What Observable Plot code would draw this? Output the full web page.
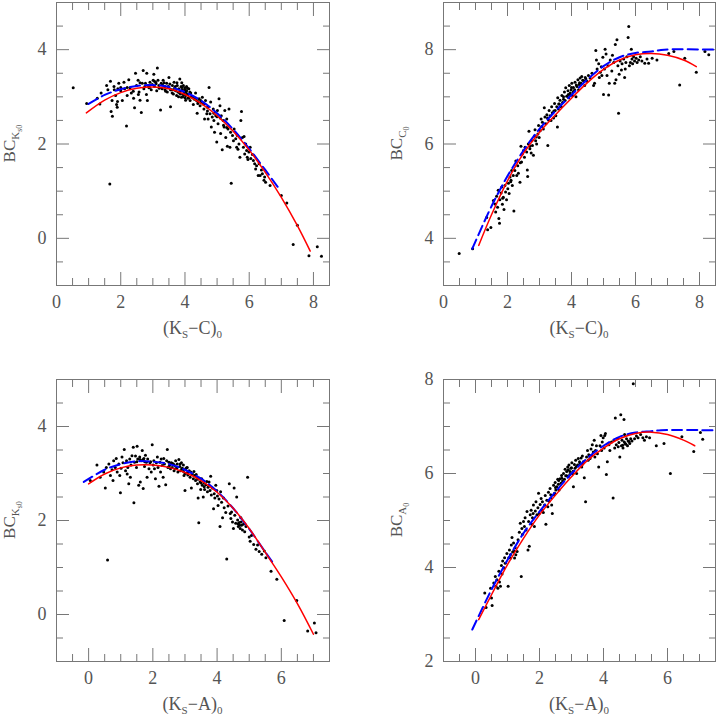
<!DOCTYPE html>
<html><head><meta charset="utf-8">
<script src="https://cdn.jsdelivr.net/npm/d3@7"></script>
<script src="https://cdn.jsdelivr.net/npm/@observablehq/plot@0.6"></script>
<style>
body{margin:0;background:#fff}
#c{position:relative;width:717px;height:718px;overflow:hidden}
#c > div{position:absolute}
</style>
</head><body><div id="c"></div>
<script>
// ---------- Panel 1: BC_Ks0 vs (Ks-C)0 ----------
const p1Points = [
[0.52,3.19],[0.94,2.86],[1.27,2.97],[1.35,2.85],[1.39,3.08],[1.56,3.24],[1.6,3.15],[1.68,3.33],[1.73,2.92],[1.70,2.69],
[1.74,2.59],[1.66,1.15],[1.79,3.22],[1.84,3.03],[1.87,2.84],[1.89,2.78],[1.91,3.17],[1.94,3.29],[2.0,3.13],[2.05,2.92],
[2.1,3.31],[2.12,3.17],[2.18,2.38],[2.2,3.03],[2.25,3.36],[2.29,3.19],[2.33,3.08],[2.39,3.12],[2.43,2.77],[2.46,3.5],
[2.49,3.24],[2.54,3.35],[2.57,3.10],[2.60,2.93],[2.64,2.67],[2.67,3.29],[2.70,3.56],[2.72,3.17],[2.77,3.29],[2.81,3.5],
[2.83,2.92],[2.85,3.24],[2.88,3.19],[2.91,3.31],[2.95,3.15],[2.98,3.26],[3.01,3.35],[3.03,3.48],[3.05,3.22],[3.09,3.31],
[3.12,3.13],[3.14,3.61],[3.16,3.35],[3.19,3.24],[3.24,2.72],[3.26,3.29],[3.29,3.17],[3.32,3.35],[3.37,3.22],[3.40,3.12],
[3.43,3.29],[3.47,3.19],[3.50,3.41],[3.53,3.27],[3.55,2.79],[3.57,3.15],[3.61,3.24],[3.64,3.06],[3.66,3.31],[3.68,3.19],
[3.71,3.13],[3.74,3.03],[3.76,3.24],[3.78,3.10],[3.81,3.17],[3.84,3.38],[3.86,3.06],[3.89,2.99],[3.92,3.15],[3.95,3.24],
[3.97,3.10],[3.99,3.19],[4.02,3.03],[4.02,2.93],[4.05,3.13],[4.07,3.06],[4.09,2.97],[4.12,3.17],[4.16,2.92],[4.18,3.08],
[4.23,2.99],[4.26,2.84],[4.28,2.96],[4.33,3.08],[4.36,2.92],[4.38,2.65],[4.40,2.86],[4.44,2.96],[4.47,2.81],[4.49,2.92],
[4.54,2.99],[4.57,2.85],[4.59,2.74],[4.61,2.53],[4.64,2.92],[4.68,2.64],[4.70,2.78],[4.72,2.53],[4.75,3.20],[4.78,2.64],
[4.80,2.89],[4.82,2.36],[4.85,2.57],[4.88,2.74],[4.90,2.50],[4.92,2.25],[4.96,2.60],[4.99,2.04],[5.01,2.71],[5.03,2.43],
[5.06,2.96],[5.09,2.81],[5.11,2.22],[5.13,2.60],[5.16,1.88],[5.19,2.50],[5.22,2.36],[5.24,2.71],[5.27,2.14],[5.30,2.53],
[5.32,1.95],[5.34,2.32],[5.37,2.74],[5.40,1.93],[5.42,2.25],[5.44,1.17],[5.48,2.18],[5.51,2.07],[5.53,2.32],[5.58,2.11],
[5.61,1.93],[5.63,2.18],[5.65,1.89],[5.68,2.0],[5.71,1.72],[5.74,2.50],[5.76,2.69],[5.79,2.14],[5.82,1.93],[5.84,2.16],
[5.86,1.79],[5.89,2.0],[5.92,1.86],[5.94,1.72],[5.96,1.67],[5.99,1.83],[6.03,1.93],[6.05,1.69],[6.10,1.78],[6.13,1.65],
[6.17,1.58],[6.20,1.47],[6.23,1.54],[6.28,1.33],[6.31,1.58],[6.34,1.33],[6.38,1.45],[6.41,1.37],[6.46,1.23],[6.48,1.30],
[6.51,1.19],[6.65,1.12],[7.0,0.91],[7.17,0.75],[7.5,0.28],[7.37,-0.13],[7.86,-0.37],[8.12,-0.18],[8.25,-0.38],
[3.85,3.12],[3.9,3.2],[3.95,3.05],[4.0,3.15],[4.05,3.22],[4.1,3.05],[3.8,3.0],[4.15,3.1],[3.7,3.22],[3.6,3.08],
[3.55,3.15],[3.45,3.1],[3.3,3.25],[3.2,3.18],[3.1,3.28],[2.9,3.2],[2.75,3.22],[2.6,3.3],[3.05,3.33],[3.35,3.3],
[4.2,3.0],[4.3,2.95],[4.4,2.9],[4.5,2.88],[4.6,2.85],[4.0,2.98],[3.9,3.3],[3.75,3.3],[2.2,3.2],[2.0,3.2],
[1.8,3.15],[1.9,2.9],[2.4,2.97],[2.55,3.05],[2.8,3.05],[4.7,2.7],[4.9,2.65],[5.0,2.58],[5.2,2.4],[5.1,2.55],[5.3,2.35],
[3.98,3.08],[4.03,3.1],[3.93,3.0],[4.08,3.18],[3.88,3.22],[4.13,2.98],[3.83,3.08],[3.63,3.15],[3.48,3.22],[3.38,3.15]
];
const p1Red = [[0.93,2.66],[1.5,2.93],[2,3.09],[2.5,3.18],[3,3.21],[3.5,3.17],[4,3.05],[4.5,2.86],[5,2.6],[5.5,2.27],[6,1.87],[6.5,1.4],[7,0.87],[7.5,0.27],[7.9,-0.27]];
const p1Blue = [[1.0,2.85],[1.5,3.04],[2,3.16],[2.5,3.23],[3,3.25],[3.5,3.21],[4,3.1],[4.5,2.92],[5,2.65],[5.5,2.31],[6,1.9],[6.5,1.45],[6.9,1.08]];

// ---------- Panel 2: BC_C0 vs (Ks-C)0 ----------
const p2Points = [
[0.49,3.68],[0.91,3.78],[1.35,4.44],[1.38,4.18],[1.48,4.23],[1.56,4.8],[1.61,4.73],[1.63,4.56],[1.66,4.89],[1.69,4.66],
[1.71,5.02],[1.73,4.42],[1.75,4.32],[1.76,4.82],[1.80,4.96],[1.82,5.09],[1.84,4.72],[1.87,4.87],[1.89,4.61],[1.92,5.12],
[1.94,4.98],[1.97,4.82],[2.01,5.05],[2.03,5.17],[2.05,4.95],[2.08,5.30],[2.11,5.23],[2.13,5.44],[2.15,5.12],[2.18,5.33],
[2.20,4.58],[2.23,5.44],[2.26,5.64],[2.29,5.33],[2.32,5.54],[2.34,5.38],[2.39,5.19],[2.42,5.95],[2.44,5.62],[2.46,5.79],
[2.50,5.86],[2.53,5.72],[2.55,5.93],[2.60,5.83],[2.62,5.45],[2.63,5.31],[2.65,6.0],[2.67,6.27],[2.70,5.90],[2.74,5.81],
[2.76,6.07],[2.78,5.97],[2.81,5.76],[2.84,6.17],[2.86,6.30],[2.88,6.07],[2.91,6.0],[2.95,6.21],[2.97,6.39],[2.99,6.14],
[3.02,6.28],[3.05,6.53],[3.07,6.37],[3.09,6.46],[3.12,6.32],[3.15,6.77],[3.17,6.57],[3.20,6.43],[3.23,6.62],[3.26,5.97],
[3.28,6.51],[3.30,6.71],[3.33,6.60],[3.36,6.50],[3.38,6.79],[3.40,6.66],[3.44,6.55],[3.47,6.86],[3.49,6.71],[3.51,6.60],
[3.54,6.79],[3.56,6.36],[3.57,6.98],[3.59,6.74],[3.62,6.85],[3.64,6.93],[3.68,6.79],[3.70,7.03],[3.72,6.88],[3.75,6.95],
[3.78,7.10],[3.80,6.92],[3.82,7.19],[3.85,7.01],[3.89,7.13],[3.91,6.98],[3.93,7.24],[3.96,7.08],[3.99,7.15],[4.01,7.29],
[4.03,7.03],[4.06,7.20],[4.09,7.12],[4.11,7.31],[4.14,7.0],[4.17,7.22],[4.20,7.36],[4.22,7.15],[4.24,7.26],[4.27,7.40],
[4.30,7.29],[4.32,7.43],[4.38,7.34],[4.41,7.24],[4.43,7.41],[4.48,7.33],[4.53,7.45],[4.58,7.40],[4.64,7.50],[4.69,7.24],
[4.72,7.29],[4.76,7.98],[4.78,7.78],[4.80,7.59],[4.85,7.70],[4.87,7.41],[4.90,7.52],[4.93,7.64],[4.95,7.45],[4.98,7.84],
[5.0,7.05],[5.03,7.59],[5.05,8.01],[5.08,7.91],[5.11,7.45],[5.14,7.66],[5.16,7.04],[5.18,7.29],[5.21,7.78],[5.26,7.55],
[5.28,7.88],[5.32,7.73],[5.35,7.29],[5.37,8.11],[5.39,7.36],[5.42,8.21],[5.45,7.66],[5.47,6.65],[5.49,7.48],[5.52,7.76],
[5.56,7.57],[5.58,7.70],[5.63,7.80],[5.66,7.41],[5.68,7.59],[5.70,7.73],[5.73,7.85],[5.77,8.26],[5.79,8.49],[5.81,7.66],
[5.84,7.73],[5.87,8.01],[5.89,7.80],[5.91,7.70],[5.94,7.85],[5.97,7.76],[6.02,7.82],[6.05,7.73],[6.10,7.78],[6.15,7.85],
[6.20,7.76],[6.29,7.71],[6.36,7.80],[6.41,7.71],[6.52,7.82],[6.67,7.78],[7.04,7.92],[7.20,7.96],[7.38,7.25],[7.54,7.82],
[7.90,7.52],[8.17,7.96],[8.29,7.89],
[3.95,7.05],[4.05,7.1],[4.0,7.2],[3.9,7.05],[4.15,7.25],[4.1,7.15],[3.75,7.0],[3.6,6.85],[3.45,6.7],[3.25,6.55],
[2.9,6.15],[2.7,5.95],[2.4,5.6],[2.1,5.2],[1.85,4.85],[4.35,7.35],[4.45,7.38],[4.25,7.3]
];
const p2Red = [[1.1,3.85],[1.5,4.5],[2,5.22],[2.5,5.8],[3,6.25],[3.5,6.62],[4,6.97],[4.5,7.3],[5,7.58],[5.5,7.78],[6,7.89],[6.5,7.92],[7,7.88],[7.5,7.78],[7.9,7.64]];
const p2Blue = [[0.9,3.78],[1.5,4.68],[2,5.32],[2.5,5.86],[3,6.32],[3.5,6.7],[4,7.04],[4.5,7.37],[5,7.65],[5.5,7.84],[6,7.93],[6.5,7.96],[6.9,8.0],[8.5,8.0]];

// ---------- Panel 3: BC_Ks0 vs (Ks-A)0 ----------
const p3Points = [
[0.05,2.85],[0.26,3.18],[0.36,2.92],[0.47,3.03],[0.52,2.69],[0.55,3.13],[0.59,1.16],[0.63,3.2],[0.68,2.96],[0.73,3.08],
[0.76,2.85],[0.78,3.27],[0.83,3.13],[0.86,3.32],[0.89,3.03],[0.94,3.20],[0.97,2.96],[0.99,2.59],[1.01,3.11],[1.04,3.35],
[1.07,3.23],[1.11,3.51],[1.15,3.06],[1.18,3.27],[1.20,2.99],[1.22,3.13],[1.25,2.78],[1.28,3.31],[1.30,2.92],[1.32,3.18],
[1.35,3.38],[1.39,3.56],[1.41,2.38],[1.43,3.24],[1.46,3.37],[1.49,3.13],[1.51,3.58],[1.53,3.31],[1.56,2.75],[1.59,3.35],
[1.61,2.82],[1.64,3.27],[1.67,3.49],[1.70,2.68],[1.72,3.32],[1.74,3.15],[1.77,3.39],[1.80,3.24],[1.82,2.92],[1.84,3.31],
[1.88,3.10],[1.91,3.23],[1.93,3.25],[1.95,3.03],[1.98,3.61],[2.01,3.18],[2.03,3.27],[2.05,3.10],[2.08,2.89],[2.11,3.23],
[2.14,3.35],[2.16,3.13],[2.19,2.73],[2.22,3.24],[2.24,3.03],[2.26,3.31],[2.29,3.17],[2.32,2.92],[2.34,3.32],[2.36,3.20],
[2.40,2.76],[2.43,3.27],[2.45,3.51],[2.47,3.13],[2.50,3.24],[2.53,3.18],[2.55,3.10],[2.57,3.23],[2.60,3.13],[2.64,3.20],
[2.66,3.06],[2.68,3.17],[2.71,3.27],[2.74,3.11],[2.76,3.20],[2.78,3.03],[2.81,3.30],[2.84,3.15],[2.86,3.06],[2.89,3.23],
[2.92,3.11],[2.95,3.18],[2.97,2.96],[3.0,2.64],[3.02,3.10],[3.05,3.01],[3.07,3.13],[3.09,2.97],[3.13,3.06],[3.16,2.92],
[3.18,3.03],[3.20,2.69],[3.23,2.99],[3.26,2.89],[3.28,3.04],[3.30,2.96],[3.33,2.85],[3.36,2.92],[3.39,2.78],[3.41,2.48],
[3.43,1.95],[3.45,2.90],[3.47,2.82],[3.49,2.66],[3.52,2.89],[3.54,2.75],[3.57,2.50],[3.59,2.80],[3.61,2.66],[3.65,2.76],
[3.68,2.83],[3.70,2.61],[3.72,2.71],[3.75,2.82],[3.78,2.64],[3.80,2.94],[3.82,2.54],[3.85,2.69],[3.89,2.25],[3.91,2.57],
[3.93,2.48],[3.96,2.75],[3.99,2.64],[4.01,2.52],[4.03,2.32],[4.06,2.46],[4.09,1.87],[4.11,2.61],[4.14,2.39],[4.17,2.06],
[4.20,2.48],[4.22,2.27],[4.27,2.17],[4.30,1.18],[4.34,2.31],[4.38,2.78],[4.41,2.15],[4.43,2.04],[4.45,2.18],[4.48,1.97],
[4.51,1.83],[4.53,2.69],[4.55,2.11],[4.58,1.94],[4.61,2.50],[4.64,2.01],[4.66,1.87],[4.69,1.96],[4.72,1.83],[4.74,2.06],
[4.76,1.90],[4.79,1.80],[4.82,1.92],[4.86,1.76],[4.90,1.87],[4.95,2.92],[5.0,1.65],[5.03,1.56],[5.07,1.68],[5.14,1.49],
[5.21,1.39],[5.26,1.48],[5.31,1.34],[5.39,1.28],[5.47,1.35],[5.52,1.21],[5.68,0.92],[5.86,0.75],[6.48,0.30],[6.09,-0.13],
[6.82,-0.35],[7.03,-0.18],[7.08,-0.39],
[2.9,3.1],[2.95,3.05],[3.0,3.0],[3.05,3.12],[3.1,3.02],[2.85,3.2],[2.7,3.1],[2.6,3.22],[2.5,3.15],[1.7,3.3],
[1.75,3.25],[1.6,3.3],[1.5,3.25],[3.35,2.98],[3.4,2.88],[3.5,2.8],[3.6,2.72],[4.7,1.9],[4.75,1.97],[4.65,1.93]
];
const p3Red = [[0,2.78],[0.5,2.99],[1,3.12],[1.5,3.18],[2,3.18],[2.5,3.13],[3,3.02],[3.5,2.85],[4,2.6],[4.5,2.26],[5,1.83],[5.5,1.32],[6,0.8],[6.5,0.23],[7,-0.42]];
const p3Blue = [[-0.15,2.82],[0.5,3.08],[1,3.2],[1.5,3.26],[2,3.25],[2.5,3.2],[3,3.08],[3.5,2.89],[4,2.62],[4.5,2.26],[5,1.82],[5.5,1.33],[5.75,1.09]];

// ---------- Panel 4: BC_A0 vs (Ks-A)0 ----------
const p4Points = [
[0.29,3.46],[0.33,3.15],[0.47,3.56],[0.50,3.35],[0.52,3.19],[0.57,3.67],[0.62,3.81],[0.64,3.60],[0.67,3.74],[0.70,3.56],
[0.73,3.92],[0.75,3.69],[0.78,3.60],[0.81,4.04],[0.83,3.86],[0.85,4.14],[0.88,3.99],[0.91,4.21],[0.93,4.09],[0.98,4.30],
[1.02,3.60],[1.04,4.21],[1.06,4.37],[1.09,4.27],[1.12,4.48],[1.14,4.64],[1.16,4.33],[1.19,4.52],[1.22,4.20],[1.24,4.42],
[1.26,4.27],[1.30,4.34],[1.33,4.59],[1.37,4.75],[1.40,4.94],[1.43,3.81],[1.45,4.83],[1.47,4.71],[1.50,4.98],[1.53,4.87],
[1.55,5.06],[1.58,4.80],[1.61,5.19],[1.64,4.37],[1.66,4.98],[1.68,4.45],[1.71,5.12],[1.74,5.22],[1.76,4.92],[1.78,5.06],
[1.81,5.33],[1.84,4.87],[1.87,5.20],[1.89,5.40],[1.92,5.12],[1.95,5.27],[1.97,5.58],[1.99,5.15],[2.02,5.34],[2.05,5.47],
[2.07,5.22],[2.09,5.40],[2.12,5.17],[2.16,5.33],[2.18,5.53],[2.20,4.92],[2.23,5.43],[2.26,5.29],[2.28,5.60],[2.30,5.41],
[2.33,5.68],[2.36,5.48],[2.38,5.33],[2.40,5.15],[2.44,5.75],[2.47,5.58],[2.49,5.81],[2.51,5.65],[2.54,5.72],[2.57,5.88],
[2.59,5.77],[2.61,5.65],[2.64,5.89],[2.67,5.79],[2.69,5.96],[2.72,5.84],[2.75,6.0],[2.78,5.88],[2.80,6.09],[2.82,5.95],
[2.85,6.04],[2.88,6.14],[2.90,5.93],[2.92,6.18],[2.95,6.04],[2.98,6.11],[3.01,6.23],[3.03,6.0],[3.06,5.72],[3.09,6.19],
[3.11,6.11],[3.13,6.28],[3.16,6.0],[3.19,6.18],[3.21,6.32],[3.26,6.21],[3.30,6.33],[3.32,6.14],[3.34,6.37],[3.37,6.25],
[3.40,5.91],[3.44,5.40],[3.47,6.35],[3.50,6.49],[3.52,6.28],[3.54,6.40],[3.58,6.32],[3.61,6.52],[3.63,6.39],[3.65,6.61],
[3.68,6.46],[3.71,6.71],[3.73,6.35],[3.75,6.49],[3.78,6.59],[3.81,6.42],[3.85,6.14],[3.89,6.59],[3.92,6.81],[3.94,6.49],
[3.96,6.67],[3.99,6.76],[4.02,6.54],[4.04,6.81],[4.06,6.85],[4.09,5.98],[4.12,6.25],[4.17,6.61],[4.20,6.49],[4.25,6.67],
[4.30,5.48],[4.33,6.71],[4.35,6.54],[4.37,7.18],[4.40,6.61],[4.44,6.74],[4.46,6.57],[4.48,6.66],[4.51,6.35],[4.54,7.25],
[4.56,6.59],[4.58,6.71],[4.61,6.54],[4.64,7.15],[4.66,6.83],[4.68,6.64],[4.72,6.74],[4.75,6.59],[4.77,6.69],[4.82,6.64],
[4.85,6.74],[4.89,6.69],[4.93,7.91],[4.97,6.74],[5.03,6.80],[5.08,6.76],[5.16,6.83],[5.23,6.76],[5.28,6.71],[5.34,6.78],
[5.44,6.76],[5.65,6.59],[5.89,6.64],[6.09,6.0],[6.45,6.78],[6.82,6.47],[7.03,6.87],[7.10,6.73],
[2.85,5.95],[2.9,6.08],[2.95,5.98],[3.0,6.12],[3.05,6.05],[2.7,5.9],[2.6,5.85],[2.5,5.7],[2.45,5.55],[2.35,5.55],
[3.15,6.15],[3.25,6.25],[3.35,6.2],[4.6,6.6],[4.65,6.67],[4.7,6.62],[4.8,6.68],[1.2,4.35],[1.1,4.2],[1.8,5.15]
];
const p4Red = [[0.1,2.89],[0.5,3.42],[1,4.06],[1.5,4.62],[2,5.12],[2.5,5.54],[3,5.93],[3.5,6.28],[4,6.54],[4.5,6.74],[5,6.85],[5.5,6.88],[6,6.83],[6.5,6.71],[6.85,6.59]];
const p4Blue = [[-0.1,2.68],[0.5,3.53],[1,4.16],[1.5,4.73],[2,5.19],[2.5,5.61],[3,6.0],[3.5,6.33],[4,6.59],[4.5,6.78],[5,6.87],[5.5,6.9],[5.8,6.92],[7.5,6.92]];

// ---------- Axes ----------
const xDomainC = [0, 8.5], xMajorC = [0, 2, 4, 6, 8];
const xDomainA = [-1, 7.5], xMajorA = [0, 2, 4, 6];
const yDomainK = [-1, 5], yMajorK = [0, 2, 4];
const yDomainC0 = [3, 9], yMajorC0 = [4, 6, 8];
const yDomainA0 = [2, 8], yMajorA0 = [2, 4, 6, 8];

const TEXT = "#555", FRAME = "#777";
const FONT = "'Liberation Serif', 'DejaVu Serif', serif";

function panel(o) {
  const {left, top, width, height, ml, mr, mt, mb, xd, yd, xMajor, yMajor, pts, red, blue, xlab, ylab} = o;
  const iw = width - ml - mr, ih = height - mt - mb;
  const LM = 13, Lm = 7;
  const xMinor = d3.range(xd[0], xd[1] + 1e-9, 0.5).filter(v => !xMajor.includes(v));
  const yMinor = d3.range(yd[0], yd[1] + 1e-9, 0.5).filter(v => !yMajor.includes(v));
  const tk = {stroke: FRAME, strokeWidth: 1, tickFormat: () => "", label: null};
  // inward ticks on all four sides: outward Plot axis ticks shifted back inside by their length
  const ax = (ticks, len) => [
    Plot.axisX({ticks, anchor: "bottom", tickSize: len, dy: -len, ...tk}),
    Plot.axisX({ticks, anchor: "top", tickSize: len, dy: len, ...tk})
  ];
  const ay = (ticks, len) => [
    Plot.axisY({ticks, anchor: "left", tickSize: len, dx: len, ...tk}),
    Plot.axisY({ticks, anchor: "right", tickSize: len, dx: -len, ...tk})
  ];
  const svg = Plot.plot({
    width, height, marginLeft: ml, marginRight: mr, marginTop: mt, marginBottom: mb,
    style: {fontFamily: FONT, fontSize: "18px", color: TEXT, background: "transparent", overflow: "visible"},
    x: {domain: xd, axis: null},
    y: {domain: yd, axis: null},
    marks: [
      Plot.frame({stroke: FRAME, strokeWidth: 1}),
      ...ax(xMinor, Lm), ...ax(xMajor, LM), ...ay(yMinor, Lm), ...ay(yMajor, LM),
      Plot.dot(pts, {x: d => d[0], y: d => d[1], r: 1.5, fill: "#000", stroke: null}),
      Plot.line(blue, {x: d => d[0], y: d => d[1], stroke: "#0000ff", strokeWidth: 2, strokeDasharray: "10,5", curve: "catmull-rom"}),
      Plot.line(red, {x: d => d[0], y: d => d[1], stroke: "#ff0000", strokeWidth: 1.5, curve: "catmull-rom"}),
      Plot.axisX({ticks: xMajor, tickFormat: d => String(d), anchor: "bottom", tickSize: 0, tickPadding: 10, label: null, fill: TEXT, fontSize: 18}),
      Plot.axisY({ticks: yMajor, tickFormat: d => String(d), anchor: "left", tickSize: 0, tickPadding: 10, label: null, fill: TEXT, fontSize: 18})
    ]
  });
  const s = d3.select(svg);
  const tx = s.append("text").attr("x", ml + iw / 2).attr("y", height - mb + 49)
    .attr("text-anchor", "middle").attr("fill", TEXT).style("font-family", FONT).style("font-size", "18px");
  xlab.forEach(([t, size, dy]) => tx.append("tspan").attr("font-size", size).attr("dy", dy).text(t));
  const ty = s.append("text").attr("transform", `translate(${ml - 41},${mt + ih / 2}) rotate(-90)`)
    .attr("text-anchor", "middle").attr("fill", TEXT).style("font-family", FONT).style("font-size", "17px");
  ylab.forEach(([t, size, dy]) => ty.append("tspan").attr("font-size", size).attr("dy", dy).text(t));
  const wrap = document.createElement("div");
  wrap.style.left = left + "px"; wrap.style.top = top + "px";
  wrap.appendChild(svg);
  document.getElementById("c").appendChild(wrap);
}

const xLabC = [["(K", 18, 0], ["S", 11, 4], ["\u2212C)", 18, -4], ["0", 11, 4]];
const xLabA = [["(K", 18, 0], ["S", 11, 4], ["\u2212A)", 18, -4], ["0", 11, 4]];
const yLabK = [["BC", 17, 0], ["K", 11, 4], ["s0", 8, 3]];
const yLabC = [["BC", 17, 0], ["C", 11, 4], ["0", 8, 3]];
const yLabA = [["BC", 17, 0], ["A", 11, 4], ["0", 8, 3]];

panel({left: 0, top: 0, width: 358, height: 358, ml: 56, mr: 29, mt: 2, mb: 73,
  xd: xDomainC, yd: yDomainK, xMajor: xMajorC, yMajor: yMajorK, pts: p1Points, red: p1Red, blue: p1Blue, xlab: xLabC, ylab: yLabK});
panel({left: 358, top: 0, width: 359, height: 358, ml: 85, mr: 2, mt: 2, mb: 73,
  xd: xDomainC, yd: yDomainC0, xMajor: xMajorC, yMajor: yMajorC0, pts: p2Points, red: p2Red, blue: p2Blue, xlab: xLabC, ylab: yLabC});
panel({left: 0, top: 358, width: 358, height: 360, ml: 56, mr: 29, mt: 21, mb: 57,
  xd: xDomainA, yd: yDomainK, xMajor: xMajorA, yMajor: yMajorK, pts: p3Points, red: p3Red, blue: p3Blue, xlab: xLabA, ylab: yLabK});
panel({left: 358, top: 358, width: 359, height: 360, ml: 85, mr: 2, mt: 21, mb: 57,
  xd: xDomainA, yd: yDomainA0, xMajor: xMajorA, yMajor: yMajorA0, pts: p4Points, red: p4Red, blue: p4Blue, xlab: xLabA, ylab: yLabA});
</script>
</body></html>
